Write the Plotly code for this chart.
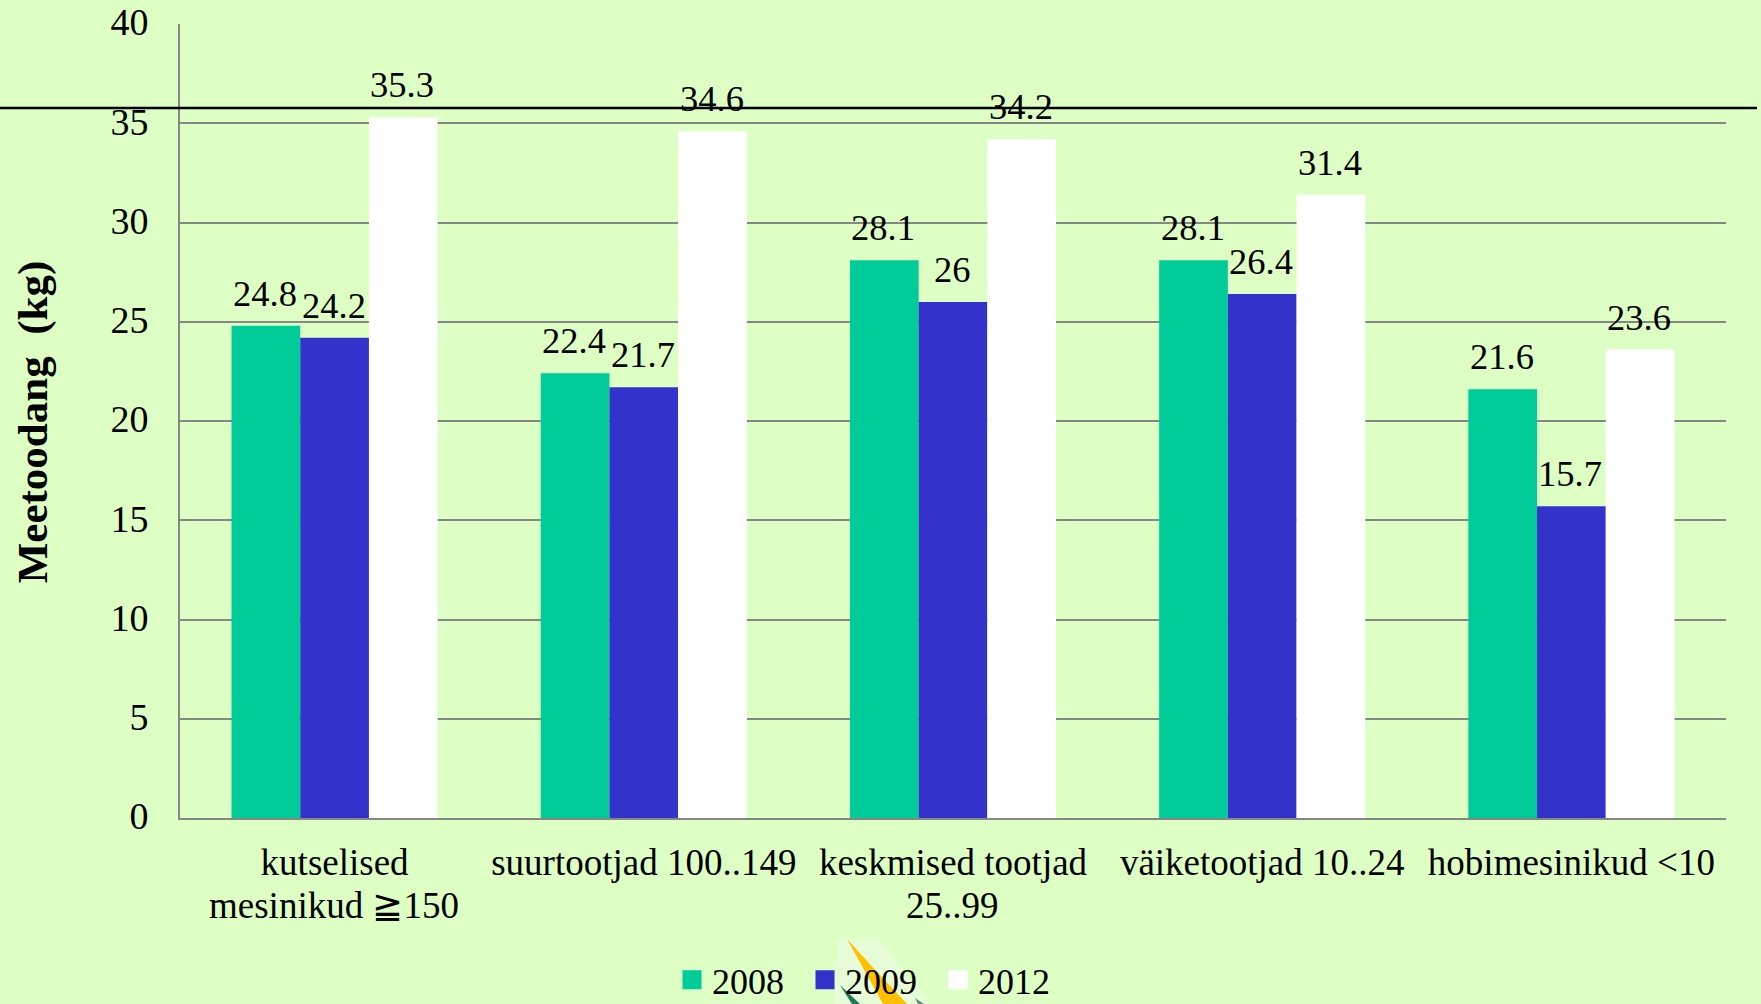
import plotly.graph_objects as go

categories = ["kutselised mesinikud ≧150", "suurtootjad 100..149", "keskmised tootjad 25..99", "väiketootjad 10..24", "hobimesinikud <10"]
tick_first_lines = ["kutselised", "suurtootjad 100..149", "keskmised tootjad", "väiketootjad 10..24", "hobimesinikud <10"]
tick_second_lines = ["mesinikud ≧150", "", "25..99", "", ""]
series_names = ["2008", "2009", "2012"]
v2008 = [24.8, 22.4, 28.1, 28.1, 21.6]
v2009 = [24.2, 21.7, 26, 26.4, 15.7]
v2012 = [35.3, 34.6, 34.2, 31.4, 23.6]
colors = ["#00CC99", "#3333CC", "#FFFFFF"]
values = [v2008, v2009, v2012]
y_ticks = [0, 5, 10, 15, 20, 25, 30, 35, 40]
y_title = "<b>Meetoodang  (kg)</b>"
FONT = "Liberation Serif"
W, H = 1761, 1004
L, R, T, B = 180, 1726, 23.5, 818
BAR_PX = 68.7

fig = go.Figure()
for name, vals, col in zip(series_names, values, colors):
    fig.add_trace(go.Bar(name=name, x=categories, y=vals, marker=dict(color=col, line_width=0), showlegend=False))
for name, col in zip(series_names, colors):
    fig.add_trace(go.Scatter(name=name, x=[categories[0]], y=[None], mode="markers",
                             marker=dict(symbol="square", size=16, color=col, line=dict(color=col, width=3))))

px = lambda x: (x - L) / (R - L)
py = lambda y: 1 - (y - T) / (B - T)

def poly(pts, color, opacity=1.0):
    path = "M" + "L".join(f"{px(x):.5f},{py(y):.5f}" for x, y in pts) + "Z"
    return dict(type="path", xref="paper", yref="paper", path=path, fillcolor=color, opacity=opacity,
                line_width=0, layer="above")

shapes = [
    poly([(838, 939), (878, 939), (930, 1004), (834, 1004)], "#EFFBEA", 0.5),
    poly([(847, 939), (878, 973), (907, 1004), (883, 1004)], "#FFC000"),
    poly([(840, 985), (860, 1004), (852, 1004)], "#1E7A50"),
    poly([(915, 998), (924, 1004), (918, 1004)], "#5E8F7A"),
    dict(type="line", xref="paper", yref="paper", x0=px(0), x1=px(1757), y0=py(107.5), y1=py(107.5),
         line=dict(color="black", width=2.5), layer="above"),
]

annotations = []
for i, vals in enumerate(values):
    for cat, v in zip(categories, vals):
        annotations.append(dict(x=cat, y=v, xref="x", yref="y", text=str(v), showarrow=False,
                                xanchor="center", yanchor="bottom", xshift=(i - 1) * BAR_PX - 1, yshift=10,
                                font=dict(family=FONT, size=36.5, color="black")))
for cat, line2 in zip(categories, tick_second_lines):
    if line2:
        annotations.append(dict(x=cat, y=py(906), xref="x", yref="paper", text=line2, showarrow=False,
                                xanchor="center", yanchor="middle", xshift=-1, font=dict(family=FONT, size=37, color="black")))
annotations.append(dict(x=px(33), y=py(422), xref="paper", yref="paper", text=y_title, showarrow=False, textangle=-90,
                        xanchor="center", yanchor="middle", font=dict(family=FONT, size=43, color="black")))

fig.update_layout(
    width=W, height=H, autosize=False,
    paper_bgcolor="#DDFFC4", plot_bgcolor="#DDFFC4",
    margin=dict(l=L, r=W - R, t=T, b=H - B, autoexpand=False),
    barmode="group", bargap=0.3333, bargroupgap=0,
    font=dict(family=FONT, size=36, color="black"),
    xaxis=dict(showgrid=False, showline=True, linecolor="#868686", linewidth=2, ticks="", tickangle=0, automargin=False,
               tickmode="array", tickvals=categories, ticktext=tick_first_lines, tickfont=dict(size=37), ticklabelstandoff=11),
    yaxis=dict(range=[0, 40], tickvals=y_ticks, showgrid=True, gridcolor="#868686", gridwidth=2, zeroline=False,
               showline=True, linecolor="#868686", linewidth=2, ticks="", tickfont=dict(size=38), automargin=False,
               ticklabelstandoff=22, ticklabelshift=-2),
    legend=dict(orientation="h", x=px(672), xanchor="left", xref="paper", y=py(1010), yanchor="bottom", yref="paper",
                bgcolor="rgba(0,0,0,0)", font=dict(size=36), entrywidth=88, entrywidthmode="pixels", traceorder="normal"),
    shapes=shapes, annotations=annotations,
)
fig.write_html("out.html", config=dict(displayModeBar=False),
               post_script="document.body.style.margin='0';document.body.style.overflow='hidden';")
